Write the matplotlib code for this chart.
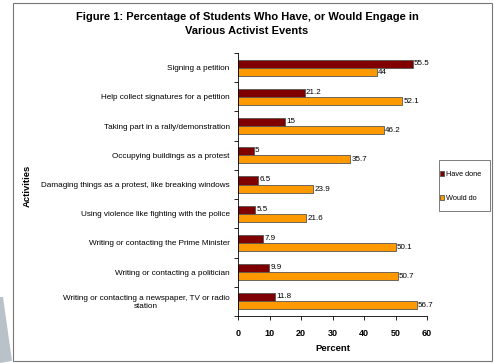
import numpy as np
from matplotlib import pyplot
from matplotlib.patches import Rectangle, Polygon

activities = [
    "Signing a petition",
    "Help collect signatures for a petition",
    "Taking part in a rally/demonstration",
    "Occupying buildings as a protest",
    "Damaging things as a protest, like breaking windows",
    "Using violence like fighting with the police",
    "Writing or contacting the Prime Minister",
    "Writing or contacting a politician",
    "Writing or contacting a newspaper, TV or radio\nstation",
]
have_done = [55.5, 21.2, 15, 5, 6.5, 5.5, 7.9, 9.9, 11.8]
would_do = [44, 52.1, 46.2, 35.7, 23.9, 21.6, 50.1, 50.7, 56.7]
x_ticks = [0, 10, 20, 30, 40, 50, 60]

pyplot.rcParams["font.family"] = ["Liberation Sans", "DejaVu Sans"]

fig = pyplot.figure(figsize=(4.94, 3.63), dpi=100)
ax = fig.add_axes([238 / 494, 1 - 316 / 363, 189 / 494, 263 / 363])

y = np.arange(len(activities))
h = 0.275
ax.barh(y - h / 2, have_done, height=h, color="#800000",
        edgecolor="#555555", linewidth=0.6, label="Have done")
ax.barh(y + h / 2, would_do, height=h, color="#FF9900",
        edgecolor="#555555", linewidth=0.6, label="Would do")

for i in range(len(activities)):
    ax.text(have_done[i] + 0.4, y[i] - h / 2 - 0.02, f"{have_done[i]:g}",
            fontsize=5.8, va="center", ha="left")
    ax.text(would_do[i] + 0.4, y[i] + h / 2 + 0.02, f"{would_do[i]:g}",
            fontsize=5.8, va="center", ha="left")

ax.set_xlim(0, 60)
ax.set_ylim(len(activities) - 0.5, -0.5)
ax.set_xticks(x_ticks)
ax.set_xticklabels([str(t) for t in x_ticks], fontsize=6.5, fontweight="bold")
ax.set_yticks(y)
ax.set_yticklabels(activities, fontsize=5.9)
ax.tick_params(axis="y", which="major", length=0, pad=6)
ax.set_yticks(np.arange(-0.5, len(activities)), minor=True)
ax.tick_params(axis="y", which="minor", length=3, width=0.6)
ax.tick_params(axis="x", length=3, width=0.6, pad=6)
for lbl in ax.get_yticklabels():
    lbl.set_multialignment("center")

ax.spines["top"].set_visible(False)
ax.spines["right"].set_visible(False)
ax.spines["left"].set_linewidth(0.6)
ax.spines["bottom"].set_linewidth(0.6)

ax.set_xlabel("Percent", fontsize=6.8, fontweight="bold", labelpad=5)
fig.text(27 / 494, 1 - 186 / 363, "Activities", rotation=90, fontsize=6.8,
         fontweight="bold", ha="center", va="center")

fig.text(0.5, 1 - 24 / 363,
         "Figure 1: Percentage of Students Who Have, or Would Engage in\nVarious Activist Events",
         fontsize=8, fontweight="bold", ha="center", va="center",
         linespacing=1.4)

# legend without its own frame; the box is drawn separately
leg = fig.legend(loc="upper left", bbox_to_anchor=(440 / 494, 1 - 171 / 363),
                 fontsize=5.3, frameon=False,
                 handlelength=0.6, handleheight=0.6, handletextpad=0.15,
                 labelspacing=2.3, borderpad=0, borderaxespad=0)
for p in leg.get_patches():
    p.set_linewidth(0.6)
fig.patches.append(Rectangle((439 / 494, 1 - 211 / 363), 51 / 494, 51 / 363,
                             transform=fig.transFigure, fill=False,
                             edgecolor="#666666", linewidth=0.6))

fig.patches.append(Rectangle((12.5 / 494, 2.5 / 363), 479.5 / 494, 358 / 363,
                             transform=fig.transFigure, fill=False,
                             edgecolor="#777777", linewidth=0.8))
fig.patches.append(Polygon([(0, 0), (12 / 494, 2 / 363), (3 / 494, 66 / 363),
                            (0, 66 / 363)],
                           closed=True, transform=fig.transFigure,
                           facecolor="#b9c2c9", edgecolor="none"))

pyplot.savefig("out.png", dpi=100)
